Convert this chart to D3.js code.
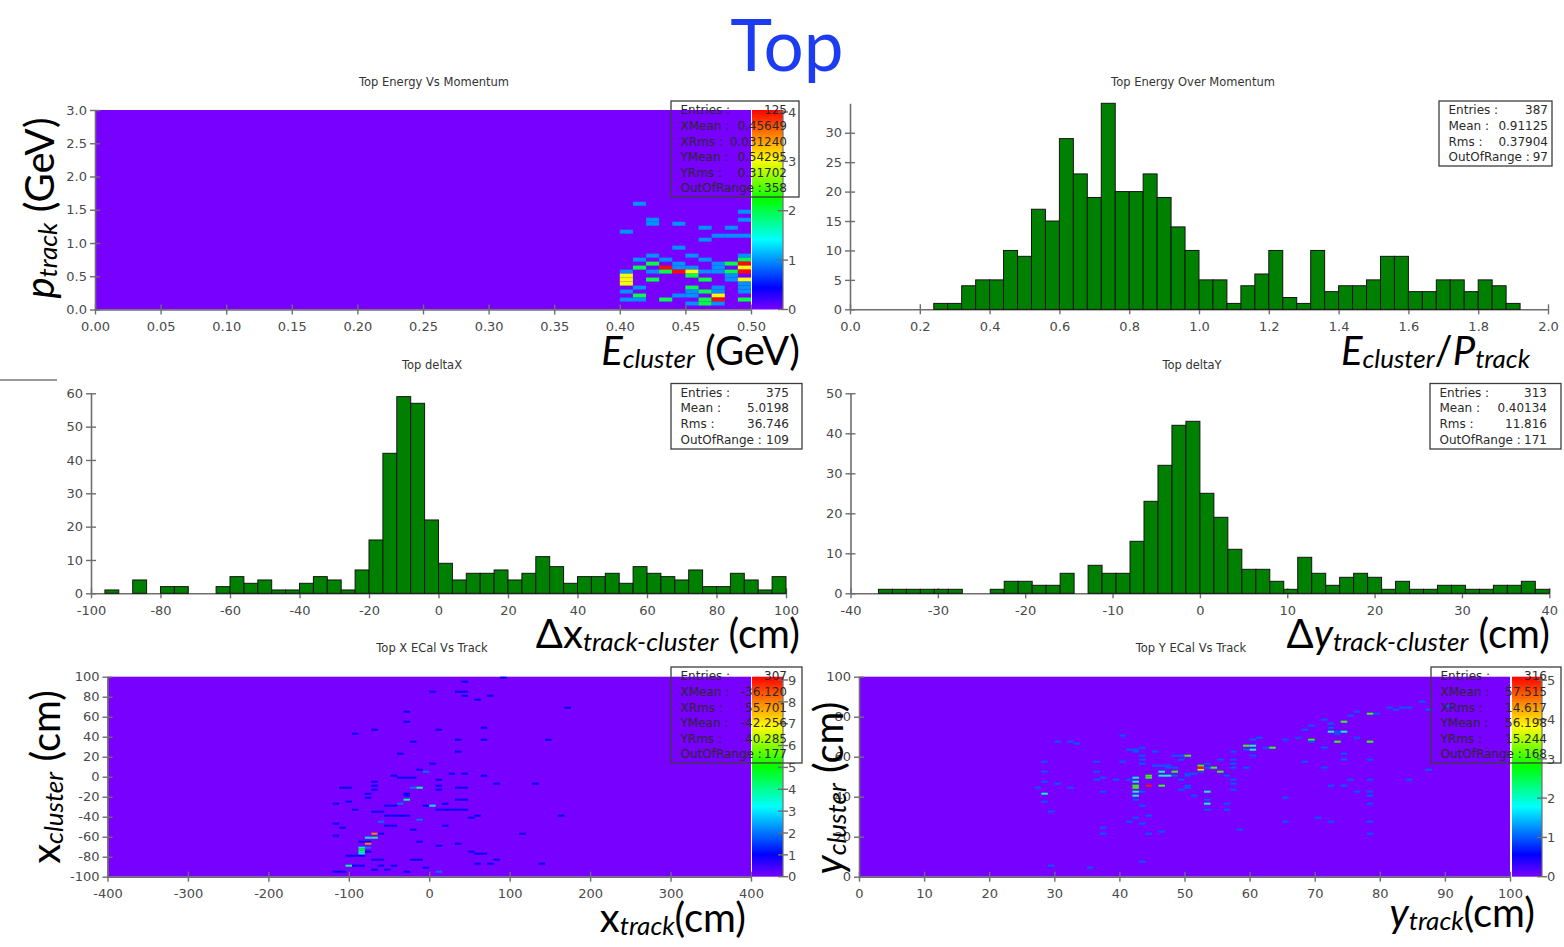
<!DOCTYPE html>
<html>
<head>
<meta charset="utf-8">
<script src="https://cdn.jsdelivr.net/npm/d3@7"></script>
<style>
  body { margin: 0; background: #fff; }
  svg { display: block; }
  text { white-space: pre; }
</style>
</head>
<body>
<svg id="chart" width="1564" height="947"></svg>
<script>
// ---------------- data ----------------

// Top Energy Over Momentum : 50 bins of 0.04 starting at 0
const eopStart = 0, eopWidth = 0.04;
const eopCounts = [0,0,0,0,0,0, 1,1,4,5,5,10,9,17,15,29, 23,19,35,20,20,23,19,14,10,
  5,5,1,4,6,10,2,1,10,3,4,4,5,9,9,3,3,5,5,3,5,4,1, 0,0];
const eopStats = [["Entries :", "387"], ["Mean :", "0.91125"], ["Rms :", "0.37904"], ["OutOfRange :", "97"]];

// Top deltaX : 50 bins of 4 cm starting at -100
const dxStart = -100, dxWidth = 4;
const dxCounts = [0,1,0,4,0,2,2,0,0,2, 5,3,4,1,1,3,5,4,1,7, 16,42,59,57,22,
  9,4,6,6,7,4,6,11,8,3, 5,5,6,3,8,6,5,4,7,2, 2,6,4,1,5];
const dxStats = [["Entries :", "375"], ["Mean :", "5.0198"], ["Rms :", "36.746"], ["OutOfRange :", "109"]];

// Top deltaY : 50 bins of 1.6 cm starting at -40
const dyStart = -40, dyWidth = 1.6;
const dyCounts = [0,0,1,1,1,1,1,1,0,0, 1,3,3,2,2,5,0,7,5,5, 13,23,32,42,43,
  25,19,11,6,6,3,1,9,5,2, 4,5,4,1,3,1,1,2,2,1, 1,2,2,3,1];
const dyStats = [["Entries :", "313"], ["Mean :", "0.40134"], ["Rms :", "11.816"], ["OutOfRange :", "171"]];

// Top Energy Vs Momentum : cells [E low edge, p low edge, entries], bins 0.01 x 0.06
const evpBinX = 0.01, evpBinY = 0.06, evpMax = 4.04;
const evpCells = [
  [0.41,1.56,1],[0.42,1.26,1],[0.42,1.32,1],[0.44,1.26,1],[0.46,1.20,1],[0.48,1.20,1],
  [0.49,1.44,1],[0.49,1.32,1],[0.40,1.14,1],[0.47,1.08,1],[0.48,1.08,1],[0.49,1.08,1],
  [0.46,1.02,1],[0.44,0.90,1],[0.42,0.78,1],[0.45,0.78,1],[0.49,0.78,1],
  [0.41,0.72,1],[0.43,0.72,1],[0.46,0.72,1],[0.49,0.72,2],
  [0.42,0.66,2],[0.44,0.66,1],[0.47,0.66,1],[0.48,0.66,2],[0.49,0.66,4],
  [0.41,0.60,2],[0.43,0.60,4],[0.44,0.60,1],[0.45,0.60,1],[0.47,0.60,1],[0.49,0.60,3],
  [0.40,0.54,1],[0.42,0.54,1],[0.43,0.54,2],[0.44,0.54,4],[0.45,0.54,3],[0.46,0.54,1],
  [0.47,0.54,1],[0.48,0.54,2],[0.49,0.54,4],
  [0.40,0.48,3],[0.40,0.42,3],[0.40,0.36,3],[0.42,0.42,2],[0.45,0.48,2],[0.46,0.42,2],
  [0.48,0.48,1],[0.48,0.42,1],[0.49,0.42,3],
  [0.41,0.30,1],[0.45,0.30,2],[0.47,0.30,1],[0.49,0.36,1],[0.49,0.30,1],[0.49,0.24,1],
  [0.40,0.24,1],[0.45,0.24,1],[0.46,0.24,2],[0.47,0.24,1],
  [0.41,0.18,2],[0.44,0.18,1],[0.45,0.18,1],[0.47,0.18,3],
  [0.40,0.12,1],[0.41,0.12,1],[0.43,0.12,2],[0.46,0.12,2],[0.47,0.12,4],[0.49,0.12,2],
  [0.45,0.06,1],[0.46,0.06,2],[0.47,0.06,1]
];
const evpStats = [["Entries :", "125"], ["XMean :", "0.45649"], ["XRms :", "0.031240"],
  ["YMean :", "0.54295"], ["YRms :", "0.31702"], ["OutOfRange :", "358"]];

// Top X ECal Vs Track : cells [x_track low edge, x_cluster low edge, entries], bins 8 x 2 cm
const xvtBinX = 8, xvtBinY = 2, xvtMax = 9.15;
const xvtCells = [
  [-32,64,1],[-32,54,1],[-72,46,1],[-96,42,1],[-24,34,1],[-40,22,1],
  [-48,0,1],[-32,-2,1],[-24,-2,1],[-40,-2,1],
  [-24,-12,2],[-16,-12,4],[-112,-12,1],[-104,-12,1],
  [-72,-6,1],[-72,-10,1],[-72,-14,1],
  [-32,-24,4],[-32,-20,1],[-32,-18,1],
  [-120,-28,1],[-104,-26,1],[-80,-18,1],[-80,-22,1],
  [-40,-28,2],[-48,-30,1],[-56,-30,1],
  [-96,-34,1],[-64,-36,1],[-72,-36,1],
  [-56,-40,1],[-48,-40,1],[-40,-40,1],[-32,-40,1],
  [-64,-46,2],[-56,-50,1],[-48,-50,1],
  [-120,-48,1],[-112,-52,1],
  [-72,-58,8],[-64,-58,1],[-72,-62,4],[-80,-62,3],[-120,-60,1],
  [-88,-66,1],[-80,-66,1],[-80,-68,8],
  [-88,-72,3],[-80,-72,2],[-88,-74,5],[-88,-76,4],[-88,-78,3],[-80,-76,1],[-88,-80,1],
  [-96,-80,1],[-104,-80,1],
  [-104,-90,4],[-96,-90,1],[-88,-90,1],
  [-120,-96,1],[-112,-96,1],
  [-72,-84,1],[-72,-94,1],[-64,-84,1],[-64,-90,1],[-56,-94,1],[-48,-90,1],[-32,-96,1],[-24,-84,1],
  [88,98,1],[40,94,1],[0,84,1],[32,84,1],[40,84,1],[40,80,1],[56,76,1],[72,80,1],[168,68,1],
  [8,46,1],[64,48,1],[32,36,1],[64,36,1],[144,36,1],[32,24,1],[0,12,1],[-16,6,1],[-8,4,2],
  [24,2,1],[40,2,1],[64,0,1],[8,-4,1],[80,-8,1],[128,-8,1],[8,-10,1],[8,-14,1],[32,-12,1],
  [40,-12,1],[16,-28,1],[-8,-30,1],[0,-30,3],[8,-34,1],[16,-34,1],[24,-34,1],[32,-34,1],
  [40,-34,1],[32,-24,1],[40,-24,1],[56,-40,1],[48,-42,1],[160,-40,1],[-16,-44,2],[16,-50,1],
  [-24,-54,1],[112,-58,1],[-16,-66,1],[8,-70,1],[32,-68,1],[48,-76,1],[56,-78,1],[64,-78,1],
  [80,-84,1],[-16,-84,1],[56,-88,1],[72,-88,1],[136,-88,1],[-8,-92,1],[8,-96,2]
];
const xvtStats = [["Entries :", "307"], ["XMean :", "-36.120"], ["XRms :", "55.701"],
  ["YMean :", "-42.256"], ["YRms :", "40.285"], ["OutOfRange :", "177"]];

// Top Y ECal Vs Track : cells [y_track low edge, y_cluster low edge, entries], bins 1 x 1 cm
const yvtBinX = 1, yvtBinY = 1, yvtMax = 5.09;
const yvtCells = [
  [30,67,1],[32,67,1],[33,66,1],[28,57,1],[28,52,1],[28,47,1],[28,41,2],[27,44,1],[28,37,1],
  [29,32,1],[30,46,1],[29,5,1],[35,4,1],[32,44,1],[36,57,1],[36,52,1],[36,48,1],[37,49,1],
  [37,42,1],[37,24,1],[37,21,1],[39,48,1],[40,70,1],[40,57,1],[41,63,1],[42,63,1],[41,48,1],
  [41,27,1],[42,62,1],[42,49,2],[42,47,2],[42,45,3],[42,44,3],[42,42,2],[42,40,2],[42,38,1],
  [42,29,1],[43,64,1],[43,60,1],[43,58,1],[43,56,1],[43,42,1],[43,35,1],[43,26,1],[43,7,1],
  [44,50,3],[44,49,3],[44,45,5],[44,30,1],[44,21,1],[45,62,1],[46,55,1],[45,55,1],[47,55,1],
  [46,52,2],[46,50,2],[47,50,2],[48,50,1],[46,45,3],[47,54,1],[48,52,3],[46,22,1],[48,60,1],
  [48,54,1],[49,60,1],[49,58,1],[49,48,1],[49,43,1],[50,60,3],[50,45,1],[51,40,1],[50,51,1],
  [51,51,1],[52,55,3],[52,53,4],[50,50,1],[50,44,1],[52,54,5],[53,56,1],[53,54,1],[54,54,3],
  [52,52,1],[53,42,2],[53,38,1],[53,36,2],[53,33,1],[55,52,3],[55,58,1],[56,50,1],[56,36,1],
  [56,33,1],[57,62,1],[57,58,1],[57,56,1],[57,54,1],[57,48,1],[57,46,1],[57,43,1],[58,23,1],
  [59,65,3],[60,65,2],[60,68,1],[59,63,1],[60,63,2],[59,54,1],[60,60,1],[61,69,1],[63,64,3],
  [62,64,1],[65,68,1],[65,39,1],[65,27,1],[67,69,1],[68,73,1],[68,57,1],[69,75,1],[69,68,3],
  [69,67,1],[70,29,1],[71,78,1],[71,64,1],[71,54,1],[72,74,1],[72,72,2],[73,71,1],[72,76,1],
  [72,45,1],[72,27,1],[73,72,1],[73,67,3],[74,77,3],[74,72,2],[74,61,1],[74,58,1],[74,45,1],
  [75,80,1],[75,48,1],[76,82,1],[76,69,1],[76,42,1],[78,81,3],[78,67,3],[78,58,1],[78,48,1],
  [78,42,1],[78,40,1],[78,36,1],[78,27,1],[78,21,1],[79,81,1],[81,84,1],[82,83,1],[83,84,1],
  [84,84,1],[84,48,1],[86,87,1],[87,53,1],[87,83,1],[90,85,1]
];
const yvtStats = [["Entries :", "316"], ["XMean :", "57.515"], ["XRms :", "14.617"],
  ["YMean :", "56.198"], ["YRms :", "15.244"], ["OutOfRange :", "168"]];

// tick values
const evpXTicks = d3.range(0, 0.5001, 0.05), evpYTicks = d3.range(0, 3.001, 0.5);
const eopXTicks = d3.range(0, 2.001, 0.2), eopYTicks = d3.range(0, 31, 5);
const dxXTicks = d3.range(-100, 101, 20), dxYTicks = d3.range(0, 61, 10);
const dyXTicks = d3.range(-40, 41, 10), dyYTicks = d3.range(0, 51, 10);
const xvtXTicks = d3.range(-400, 401, 100), xvtYTicks = d3.range(-100, 101, 20);
const yvtXTicks = d3.range(0, 101, 10), yvtYTicks = d3.range(0, 101, 20);

// ---------------- styling helpers ----------------
const AXIS = "#6e6e6e";
const TICK_FONT = "'DejaVu Sans', sans-serif";
const LABEL_FONT = "Lato, 'Open Sans', sans-serif";
const rainbowStops = [0, 0.11, 0.35, 0.55, 0.75, 1];
const rainbowColors = ["#7800ff", "#0000ff", "#00ffff", "#00ff00", "#ffff00", "#ff0000"];

const svg = d3.select("#chart");
const defs = svg.append("defs");

function fmtPlain(d) { return String(d); }

function drawAxes(g, x, y, xTicks, yTicks, xFmt, yFmt) {
  const xa = g.append("g").attr("transform", `translate(0,${y.range()[0]})`)
    .call(d3.axisBottom(x).tickValues(xTicks).tickFormat(xFmt).tickSizeInner(5).tickSizeOuter(0).tickPadding(7));
  const ya = g.append("g").attr("transform", `translate(${x.range()[0]},0)`)
    .call(d3.axisLeft(y).tickValues(yTicks).tickFormat(yFmt).tickSizeInner(5).tickSizeOuter(0).tickPadding(3));
  [xa, ya].forEach(a => {
    a.attr("font-family", TICK_FONT).attr("font-size", 13);
    a.select(".domain").attr("stroke", AXIS).attr("stroke-width", 1.6);
    a.selectAll(".tick line").attr("stroke", AXIS).attr("stroke-width", 1.4);
    a.selectAll(".tick text").attr("fill", "#4a4a4a");
  });
  xa.selectAll(".tick line").attr("y1", -5);
  ya.selectAll(".tick line").attr("x1", 5);
}

function panelTitle(text, cx, baseline) {
  svg.append("text").attr("x", cx).attr("y", baseline).attr("text-anchor", "middle")
    .attr("font-family", TICK_FONT).attr("font-size", 11.5).attr("fill", "#333").text(text);
}

function statsBox(x0, y0, w, h, rows, valueInset) {
  const g = svg.append("g").attr("font-family", TICK_FONT).attr("font-size", 12).attr("fill", "#2a2a2a");
  rows.forEach((r, i) => {
    const yb = y0 + 13.3 + i * 15.6;
    g.append("text").attr("x", x0 + 9.5).attr("y", yb).text(r[0]);
    g.append("text").attr("x", x0 + w - valueInset).attr("y", yb).attr("text-anchor", "end").text(r[1]);
  });
  g.append("rect").attr("x", x0).attr("y", y0).attr("width", w).attr("height", h)
    .attr("fill", "none").attr("stroke", "#3c3c3c").attr("stroke-width", 1.3);
}

function histPanel(o) {
  const g = svg.append("g");
  const x = d3.scaleLinear().domain(o.xDomain).range(o.xRange);
  const y = d3.scaleLinear().domain(o.yDomain).range(o.yRange);
  drawAxes(g, x, y, o.xTicks, o.yTicks, o.xFmt, o.yFmt);
  const bins = o.counts.map((c, i) => ({ lo: o.start + i * o.width, hi: o.start + (i + 1) * o.width, c }))
    .filter(b => b.c > 0);
  g.append("g").selectAll("rect").data(bins).join("rect")
    .attr("x", b => x(b.lo)).attr("width", b => x(b.hi) - x(b.lo))
    .attr("y", b => y(b.c)).attr("height", b => y(0) - y(b.c))
    .attr("fill", "#008000").attr("stroke", "#141414").attr("stroke-width", 1);
}

function heatPanel(o) {
  const g = svg.append("g");
  const x = d3.scaleLinear().domain(o.xDomain).range(o.xRange);
  const y = d3.scaleLinear().domain(o.yDomain).range(o.yRange);
  const color = d3.scaleLinear().domain(rainbowStops.map(s => s * o.max)).range(rainbowColors)
    .interpolate(d3.interpolateRgb).clamp(true);
  g.append("rect").attr("x", o.xRange[0]).attr("y", o.yRange[1])
    .attr("width", o.xRange[1] - o.xRange[0]).attr("height", o.yRange[0] - o.yRange[1])
    .attr("fill", color(0));
  g.append("g").selectAll("rect").data(o.cells).join("rect")
    .attr("x", d => x(d[0])).attr("width", d => x(d[0] + o.binX) - x(d[0]))
    .attr("y", d => y(d[1] + o.binY)).attr("height", d => y(d[1]) - y(d[1] + o.binY))
    .attr("fill", d => color(d[2]));
  drawAxes(g, x, y, o.xTicks, o.yTicks, o.xFmt, o.yFmt);

  // colour bar
  const id = "grad-" + o.id;
  const grad = defs.append("linearGradient").attr("id", id)
    .attr("x1", 0).attr("y1", 1).attr("x2", 0).attr("y2", 0);
  rainbowStops.forEach((s, i) => grad.append("stop").attr("offset", s).attr("stop-color", rainbowColors[i]));
  const cb = d3.scaleLinear().domain([0, o.max]).range(o.yRange);
  const [c0, c1] = o.cbX;
  g.append("rect").attr("x", c0).attr("y", cb(o.max)).attr("width", c1 - c0)
    .attr("height", cb(0) - cb(o.max)).attr("fill", `url(#${id})`);
  const ticks = d3.range(0, Math.floor(o.max) + 1);
  const tg = g.append("g").attr("font-family", TICK_FONT).attr("font-size", 13).attr("fill", "#4a4a4a");
  ticks.forEach(t => {
    tg.append("line").attr("x1", c1 - 5).attr("x2", c1 + 5).attr("y1", cb(t)).attr("y2", cb(t))
      .attr("stroke", AXIS).attr("stroke-width", 1.4);
    tg.append("text").attr("x", c1 + 5).attr("y", cb(t)).attr("dy", "0.36em").text(t);
  });
  g.append("line").attr("x1", c1).attr("x2", c1).attr("y1", cb(0)).attr("y2", cb(o.max))
    .attr("stroke", AXIS).attr("stroke-width", 1.2);
}

// Axis captions with subscripts: parts are [text, kind] with kind m = upright, mi = italic, s = subscript
function mathLabel(parts, x, y, anchor, rotated) {
  const t = svg.append("text").attr("text-anchor", anchor).attr("font-family", LABEL_FONT).attr("fill", "#000");
  if (rotated) t.attr("transform", `translate(${x},${y}) rotate(-90)`);
  else t.attr("x", x).attr("y", y);
  const drop = 3;
  let shift = 0;
  parts.forEach(([s, kind]) => {
    const sub = kind === "s";
    const dy = (sub ? drop : 0) - shift;
    shift = sub ? drop : 0;
    t.append("tspan").text(s).attr("font-size", sub ? 26 : 40)
      .attr("font-style", kind === "m" ? "normal" : "italic").attr("dy", dy);
  });
}

// ---------------- page ----------------
svg.append("text").attr("x", 787).attr("y", 71).attr("text-anchor", "middle")
  .attr("font-family", LABEL_FONT).attr("font-size", 71).attr("fill", "#1c3cf2").text("Top");

svg.append("line").attr("x1", 0).attr("x2", 57).attr("y1", 380).attr("y2", 380)
  .attr("stroke", "#9a9a9a").attr("stroke-width", 2);

// Top Energy Vs Momentum
heatPanel({ id: "evp", xDomain: [0, 0.5], xRange: [95, 751], yDomain: [0, 3], yRange: [309.5, 110],
  cells: evpCells, binX: evpBinX, binY: evpBinY, max: evpMax, cbX: [752, 783],
  xTicks: evpXTicks, yTicks: evpYTicks, xFmt: d3.format(".2f"), yFmt: d3.format(".1f") });
panelTitle("Top Energy Vs Momentum", 434, 86);
statsBox(671, 101, 128, 96, evpStats, 12);

// Top Energy Over Momentum
histPanel({ xDomain: [0, 2], xRange: [850, 1548], yDomain: [0, 35], yRange: [309.3, 103.3],
  counts: eopCounts, start: eopStart, width: eopWidth,
  xTicks: eopXTicks, yTicks: eopYTicks, xFmt: d3.format(".1f"), yFmt: fmtPlain });
panelTitle("Top Energy Over Momentum", 1193, 86);
statsBox(1439, 101, 113, 65, eopStats, 4);

// Top deltaX
histPanel({ xDomain: [-100, 100], xRange: [91, 786], yDomain: [0, 60], yRange: [593.3, 393.3],
  counts: dxCounts, start: dxStart, width: dxWidth,
  xTicks: dxXTicks, yTicks: dxYTicks, xFmt: fmtPlain, yFmt: fmtPlain });
panelTitle("Top deltaX", 432, 369);
statsBox(671, 383.5, 131, 65.5, dxStats, 13);

// Top deltaY
histPanel({ xDomain: [-40, 40], xRange: [850.5, 1549.3], yDomain: [0, 50], yRange: [593.3, 393.3],
  counts: dyCounts, start: dyStart, width: dyWidth,
  xTicks: dyXTicks, yTicks: dyYTicks, xFmt: fmtPlain, yFmt: fmtPlain });
panelTitle("Top deltaY", 1192, 369);
statsBox(1430, 383.5, 131, 65.5, dyStats, 14);

// Top X ECal Vs Track
heatPanel({ id: "xvt", xDomain: [-400, 400], xRange: [107.5, 751], yDomain: [-100, 100], yRange: [876.7, 676.7],
  cells: xvtCells, binX: xvtBinX, binY: xvtBinY, max: xvtMax, cbX: [752, 783],
  xTicks: xvtXTicks, yTicks: xvtYTicks, xFmt: fmtPlain, yFmt: fmtPlain });
panelTitle("Top X ECal Vs Track", 432, 652);
statsBox(671, 667, 131, 96, xvtStats, 15);

// Top Y ECal Vs Track
heatPanel({ id: "yvt", xDomain: [0, 100], xRange: [859, 1510], yDomain: [0, 100], yRange: [876.7, 676.7],
  cells: yvtCells, binX: yvtBinX, binY: yvtBinY, max: yvtMax, cbX: [1512, 1542],
  xTicks: yvtXTicks, yTicks: yvtYTicks, xFmt: fmtPlain, yFmt: fmtPlain });
panelTitle("Top Y ECal Vs Track", 1191, 652);
statsBox(1431, 667, 130, 96, yvtStats, 14);

// axis captions
mathLabel([["E", "mi"], ["cluster", "s"], [" (GeV)", "m"]], 800, 365, "end", false);
mathLabel([["E", "mi"], ["cluster", "s"], ["/", "m"], ["P", "mi"], ["track", "s"]], 1530, 365, "end", false);
mathLabel([["Δx", "m"], ["track-cluster", "s"], [" (cm)", "m"]], 800, 648, "end", false);
mathLabel([["Δ", "m"], ["y", "mi"], ["track-cluster", "s"], [" (cm)", "m"]], 1550, 648, "end", false);
mathLabel([["x", "m"], ["track", "s"], ["(cm)", "m"]], 746, 932, "end", false);
mathLabel([["y", "mi"], ["track", "s"], ["(cm)", "m"]], 1535, 927, "end", false);
mathLabel([["p", "mi"], ["track", "s"], [" (GeV)", "m"]], 54, 208, "middle", true);
mathLabel([["x", "m"], ["cluster", "s"], [" (cm)", "m"]], 60, 777, "middle", true);
mathLabel([["y", "mi"], ["cluster", "s"], [" (cm)", "m"]], 843, 788, "middle", true);
</script>
</body>
</html>
